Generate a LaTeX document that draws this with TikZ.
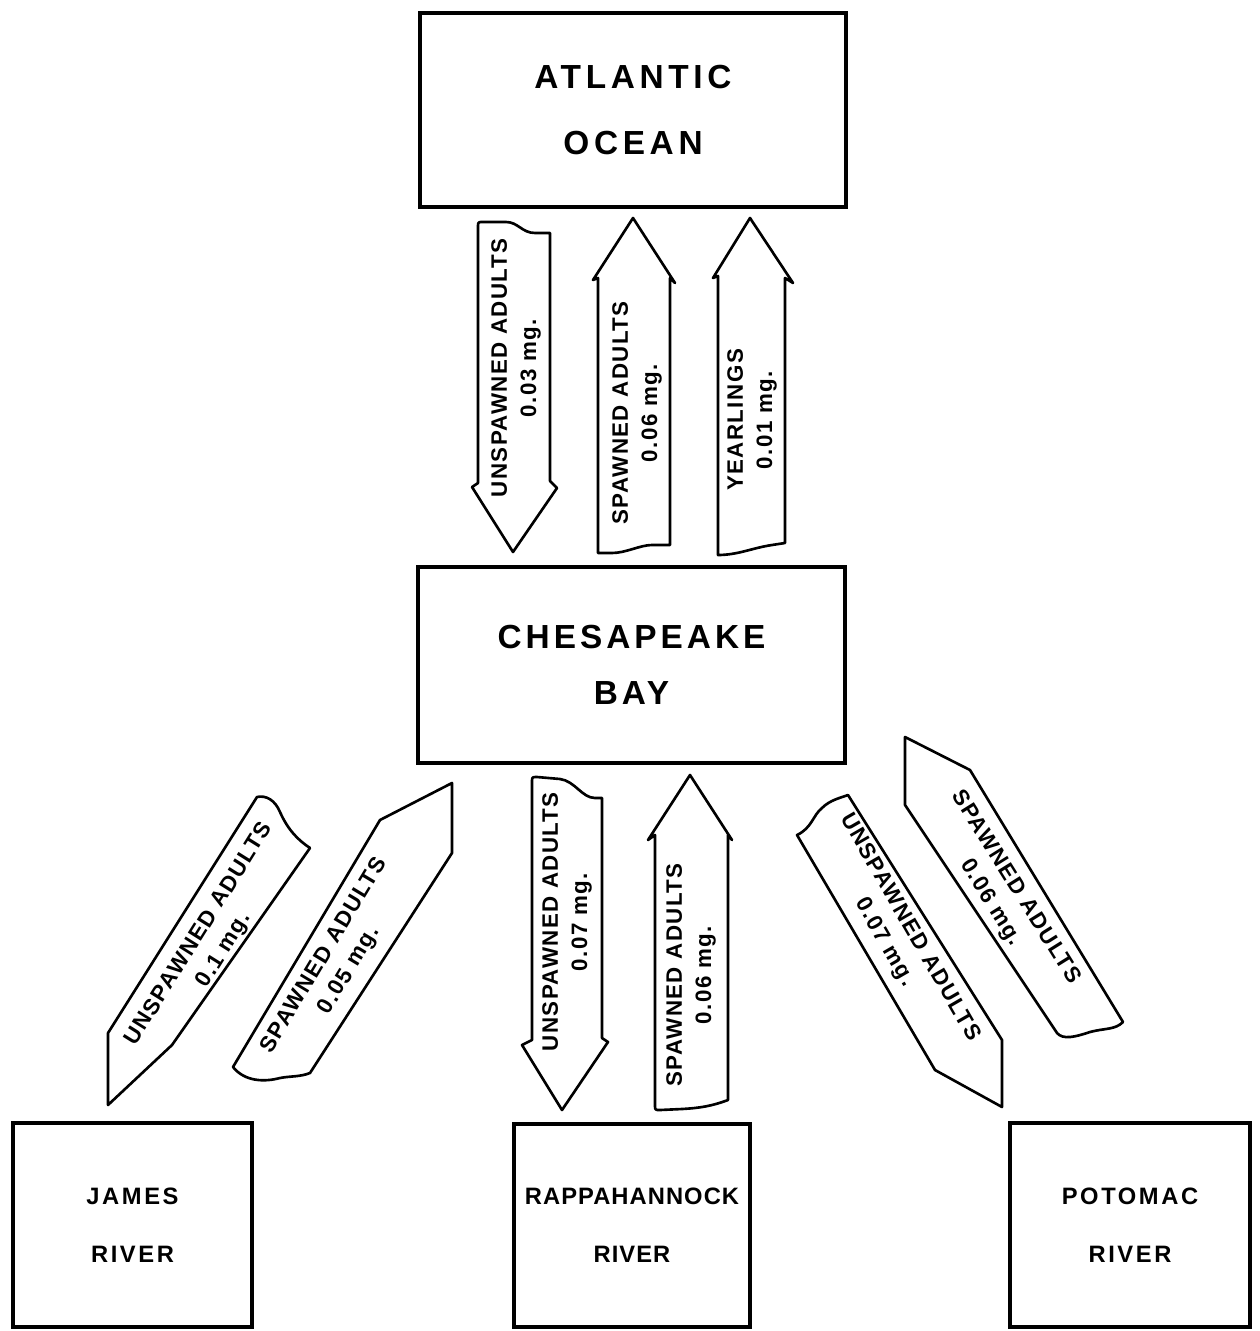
\documentclass[tikz,border=0pt]{standalone}
\usepackage{fontspec}
\setmainfont{Liberation Sans}
\newfontfamily\atlfont[LetterSpace=14]{Liberation Sans Bold}
\newfontfamily\chesfont[LetterSpace=12]{Liberation Sans Bold}
\newfontfamily\rivfont[LetterSpace=11]{Liberation Sans Bold}
\newfontfamily\rapfont[LetterSpace=4.5]{Liberation Sans Bold}
\newfontfamily\arrfont[LetterSpace=6.5]{Liberation Sans Bold}
\begin{document}
\begin{tikzpicture}[x=0.02cm,y=-0.02cm,
  box/.style={draw,line width=1.8pt,rectangle,inner sep=0pt,align=center},
  rivbox/.style={box,font=\rivfont\fontsize{13.5}{33}\selectfont},
  blockarrow/.style={draw,line width=1.5pt,line join=round,fill=white},
  arrtext/.style={align=center,inner sep=0pt,font=\arrfont\fontsize{12.7}{16.6}\selectfont}]
\useasboundingbox (0,0) rectangle (1259,1331);

% boxes
\node[box,minimum width=8.52cm,minimum height=3.88cm,font=\atlfont\fontsize{19}{38}\selectfont] (atl) at (633,110) {ATLANTIC\\OCEAN};
\node[box,minimum width=8.54cm,minimum height=3.92cm,font=\chesfont\fontsize{19}{32}\selectfont] (ches) at (631.5,665) {CHESAPEAKE\\BAY};
\node[rivbox,minimum width=4.78cm,minimum height=4.08cm] (james) at (132.5,1225) {JAMES\\RIVER};
\node[box,minimum width=4.72cm,minimum height=4.06cm,font=\rapfont\fontsize{13.5}{33}\selectfont] (rapp) at (632,1225.5) {RAPPAHANNOCK\\RIVER};
\node[rivbox,minimum width=4.80cm,minimum height=4.08cm] (poto) at (1130,1225) {POTOMAC\\RIVER};

% Atlantic <-> Chesapeake
\draw[blockarrow] (478,483) -- (478,227) .. controls (478,222) .. (483,222) -- (506,222)
  .. controls (518,222) and (522,233) .. (535,233) -- (550,233) -- (550,481) -- (557,488)
  -- (513,552) -- (472,487) -- cycle;
\draw[blockarrow] (633,218) -- (675,283) -- (670,278) -- (670,545) -- (652,545)
  .. controls (640,545) and (626,553) .. (612,553) -- (598,553) -- (598,278) -- (593,280) -- cycle;
\draw[blockarrow] (750,218) -- (793,283) -- (785,278) -- (785,543) -- (772,545)
  .. controls (752,548) and (738,555) .. (718,555) -- (718,276) -- (713,278) -- cycle;

% Chesapeake <-> Rappahannock
\draw[blockarrow] (532,1040) -- (532,782) .. controls (532,777) .. (537,777) -- (560,779)
  .. controls (575,781) and (582,798) .. (595,798) -- (602,798) -- (602,1038) -- (608,1042)
  -- (562,1110) -- (522,1045) -- cycle;
\draw[blockarrow] (690,775) -- (732,840) -- (728,835) -- (728,1100)
  .. controls (712,1106) and (700,1108) .. (682,1109) -- (660,1110) .. controls (655,1110) .. (655,1105)
  -- (655,835) -- (648,840) -- cycle;

% Chesapeake <-> James
\draw[blockarrow] (257,797) .. controls (266,795) and (275,800) .. (280,812)
  .. controls (288,830) and (298,840) .. (310,848) -- (172,1045) -- (108,1105) -- (108,1033) -- cycle;
\draw[blockarrow] (233,1067) -- (380,820) -- (452,783) -- (452,853) -- (310,1073)
  .. controls (300,1077) and (290,1076) .. (280,1078) .. controls (265,1082) and (245,1082) .. cycle;

% Chesapeake <-> Potomac
\draw[blockarrow] (797,835) .. controls (812,828) and (813,815) .. (822,808)
  .. controls (830,800) and (840,798) .. (848,795) -- (1002,1040) -- (1002,1107) -- (935,1070) -- cycle;
\draw[blockarrow] (905,737) -- (905,805) -- (1057,1033) .. controls (1063,1040) and (1075,1037) .. (1090,1032)
  .. controls (1105,1028) and (1115,1030) .. (1123,1022) -- (970,770) -- cycle;

% arrow labels
\node[arrtext,rotate=90] (tA1) at (516,368) {UNSPAWNED\ ADULTS\\0.03 mg.};
\node[arrtext,rotate=90] (tA2) at (637,413) {SPAWNED\ ADULTS\\0.06 mg.};
\node[arrtext,rotate=90] (tA3) at (752,420) {YEARLINGS\\0.01 mg.};
\node[arrtext,rotate=90] (tR1) at (567,922) {UNSPAWNED\ ADULTS\\0.07 mg.};
\node[arrtext,rotate=90] (tR2) at (691,975) {SPAWNED\ ADULTS\\0.06 mg.};
\node[arrtext,rotate=58] (tJ1) at (212,942) {UNSPAWNED\ ADULTS\\0.1 mg.};
\node[arrtext,rotate=59] (tJ2) at (337,963) {SPAWNED\ ADULTS\\0.05 mg.};
\node[arrtext,rotate=-60] (tP1) at (897,935) {UNSPAWNED\ ADULTS\\0.07 mg.};
\node[arrtext,rotate=-58] (tP2) at (1003,895) {SPAWNED\ ADULTS\\0.06 mg.};
\end{tikzpicture}
\end{document}
